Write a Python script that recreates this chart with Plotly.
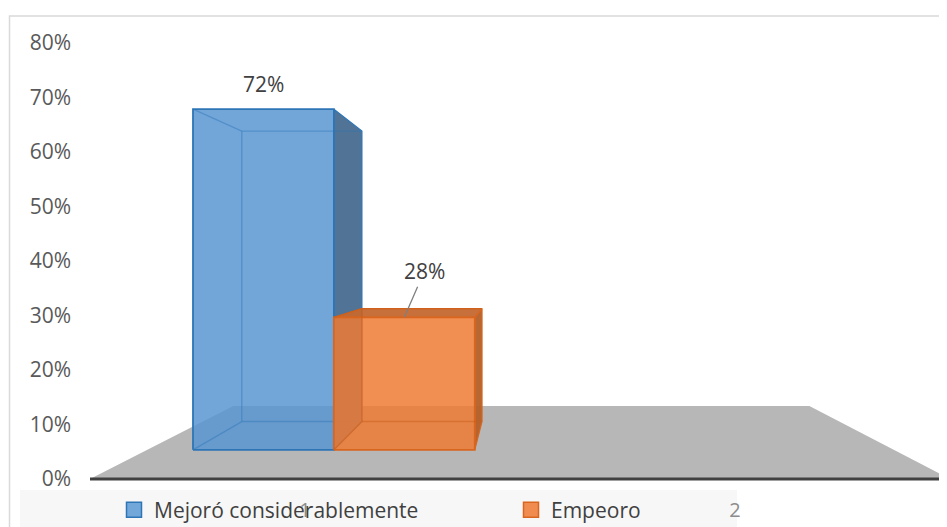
import plotly.graph_objects as go

# ---------------- data ----------------
categories = ["1", "2"]
series_names = ["Mejoró considerablemente", "Empeoro"]
series_values = [0.72, 0.28]          # both series sit in category "1"
series_category = [1, 1]
label_texts = ["72%", "28%"]
y_tick_values = [0, 0.1, 0.2, 0.3, 0.4, 0.5, 0.6, 0.7, 0.8]
y_tick_labels = ["0%", "10%", "20%", "30%", "40%", "50%", "60%", "70%", "80%"]

# ---------------- styles ----------------
front_fill = ["rgba(89,151,210,0.85)", "rgba(238,122,52,0.85)"]
side_fill = ["rgba(80,115,150,1)", "rgba(180,95,40,0.95)"]
top_fill = ["rgba(89,151,210,0.85)", "rgba(196,104,48,0.95)"]
edge_col = ["#2e75b6", "#d9661f"]
hidden_col = ["rgba(46,117,182,0.45)", "rgba(200,90,20,0.45)"]
legend_fill = ["#72a7d9", "#f08c50"]
FLOOR_COL = "#b7b7b7"
TEXT_COL = "#404040"
FONT = "Open Sans"

# perspective parameters (category units / value units)
U_VP, Y_VP = 1.509, 0.4055
S_BAR_FRONT, S_BAR_BACK, S_FLOOR_BACK = 0.868, 0.740, 0.670
GROUP_WIDTH = 0.755
FLOOR_U = (0.5, 2.5)

# page geometry (px). The page body adds an 8px margin around the figure.
OFF = 8
PAGE_W, PAGE_H = 947, 527
W, H = PAGE_W - OFF, PAGE_H - OFF
PLOT_L, PLOT_R, PLOT_T, PLOT_B = 80, 947, 16, 496     # page px
ML, MR, MT, MB = PLOT_L - OFF, PAGE_W - PLOT_R, PLOT_T - OFF, PAGE_H - PLOT_B
PX_PER_U, PX_AT_U0 = 430, -125                       # page px = PX_AT_U0 + PX_PER_U*u
X_RANGE = [(PLOT_L - PX_AT_U0) / PX_PER_U, (PLOT_R - PX_AT_U0) / PX_PER_U]
Y_RANGE = [-0.0312, 0.8495]


def proj(u, y, s):
    return U_VP + s * (u - U_VP), Y_VP + s * (y - Y_VP)


def polygon(pts, fill, line_col=None, lw=0):
    xs = [p[0] for p in pts] + [pts[0][0]]
    ys = [p[1] for p in pts] + [pts[0][1]]
    return go.Scatter(x=xs, y=ys, mode="lines", fill="toself", fillcolor=fill,
                      line=dict(color=line_col or "rgba(0,0,0,0)", width=lw),
                      showlegend=False, hoverinfo="skip")


def segs(pairs, col, lw):
    xs, ys = [], []
    for a, b in pairs:
        xs += [a[0], b[0], None]
        ys += [a[1], b[1], None]
    return go.Scatter(x=xs, y=ys, mode="lines", line=dict(color=col, width=lw),
                      showlegend=False, hoverinfo="skip")


fig = go.Figure()

# floor
fig.add_trace(polygon([proj(FLOOR_U[0], 0, 1), proj(FLOOR_U[1], 0, 1),
                       proj(FLOOR_U[1], 0, S_FLOOR_BACK), proj(FLOOR_U[0], 0, S_FLOOR_BACK)],
                      FLOOR_COL))
# front floor edge / axis line
fig.add_trace(segs([(proj(FLOOR_U[0], 0, 1), proj(FLOOR_U[1], 0, 1))], "#404040", 3))

bar_w = GROUP_WIDTH / len(series_values)
label_pos = []
for k, (v, c) in enumerate(zip(series_values, series_category)):
    u0 = c - GROUP_WIDTH / 2 + k * bar_w
    u1 = u0 + bar_w
    fbl, fbr = proj(u0, 0, S_BAR_FRONT), proj(u1, 0, S_BAR_FRONT)
    ftl, ftr = proj(u0, v, S_BAR_FRONT), proj(u1, v, S_BAR_FRONT)
    bbl, bbr = proj(u0, 0, S_BAR_BACK), proj(u1, 0, S_BAR_BACK)
    btl, btr = proj(u0, v, S_BAR_BACK), proj(u1, v, S_BAR_BACK)
    # right side face (seen from outside, eye is to the right)
    fig.add_trace(polygon([fbr, ftr, btr, bbr], side_fill[k], edge_col[k], 1.2))
    # top face (only seen from above when below eye level)
    if v < Y_VP:
        fig.add_trace(polygon([ftl, ftr, btr, btl], top_fill[k], edge_col[k], 1.2))
    # front face
    fig.add_trace(polygon([fbl, fbr, ftr, ftl], front_fill[k], edge_col[k], 1.8))
    # hidden edges seen through the translucent front
    fig.add_trace(segs([(bbl, btl), (bbl, bbr), (fbl, bbl), (ftl, btl), (btl, btr)],
                       hidden_col[k], 1.4))
    label_pos.append(proj((u0 + u1) / 2, v, S_BAR_FRONT))

# legend entries
for k, name in enumerate(series_names):
    fig.add_trace(go.Scatter(x=[None], y=[None], mode="markers", name=name,
                             marker=dict(symbol="square", size=15, color=legend_fill[k],
                                         line=dict(color=edge_col[k], width=1.5)),
                             legend="legend" if k == 0 else "legend2"))

# data labels
p0, p1 = label_pos
fig.add_annotation(x=p0[0], y=p0[1], xref="x", yref="y", text=label_texts[0],
                   showarrow=False, yshift=25, font=dict(family=FONT, size=21, color=TEXT_COL))
fig.add_annotation(x=p1[0], y=p1[1], xref="x", yref="y", text=label_texts[1],
                   showarrow=True, arrowhead=0, arrowwidth=1.3, arrowcolor="#7f7f7f",
                   ax=20, ay=-46, standoff=0,
                   font=dict(family=FONT, size=21, color=TEXT_COL))


def paper_x(px):
    return (px - PLOT_L) / (PLOT_R - PLOT_L)


def paper_y(py):
    return (PLOT_B - py) / (PLOT_B - PLOT_T)


# chart frame and legend band
fig.add_shape(type="rect", xref="paper", yref="paper", x0=paper_x(20), x1=paper_x(737),
              y0=paper_y(540), y1=paper_y(490), fillcolor="#f7f7f7", line=dict(width=0),
              layer="below")
fig.add_shape(type="path", xref="paper", yref="paper",
              path=f"M {paper_x(9.5)} {paper_y(540)} L {paper_x(9.5)} {paper_y(16)} L {paper_x(960)} {paper_y(16)}",
              line=dict(color="#d9d9d9", width=1.5), layer="below")

legend_common = dict(orientation="h", yanchor="middle", xanchor="left", bgcolor="rgba(0,0,0,0)",
                     font=dict(family=FONT, size=21, color=TEXT_COL), itemwidth=30,
                     itemclick=False, itemdoubleclick=False)

fig.update_layout(
    width=W, height=H,
    margin=dict(l=ML, r=MR, t=MT, b=MB, autoexpand=False),
    paper_bgcolor="white", plot_bgcolor="rgba(0,0,0,0)",
    hovermode=False,
    font=dict(family=FONT, color=TEXT_COL),
    xaxis=dict(range=X_RANGE, tickvals=[1, 2], ticktext=categories, showgrid=False,
               zeroline=False, showline=False, ticks="", automargin=False,
               tickfont=dict(family=FONT, size=20, color="#8c8c8c")),
    yaxis=dict(range=Y_RANGE, tickvals=y_tick_values, ticktext=y_tick_labels,
               showgrid=False, zeroline=False, showline=False, ticks="", automargin=False,
               ticklabelstandoff=8,
               tickfont=dict(family=FONT, size=21, color="#595959")),
    legend=dict(x=paper_x(114), y=paper_y(510), **legend_common),
    legend2=dict(x=paper_x(511), y=paper_y(510), **legend_common),
)

fig.write_html("out.html")
